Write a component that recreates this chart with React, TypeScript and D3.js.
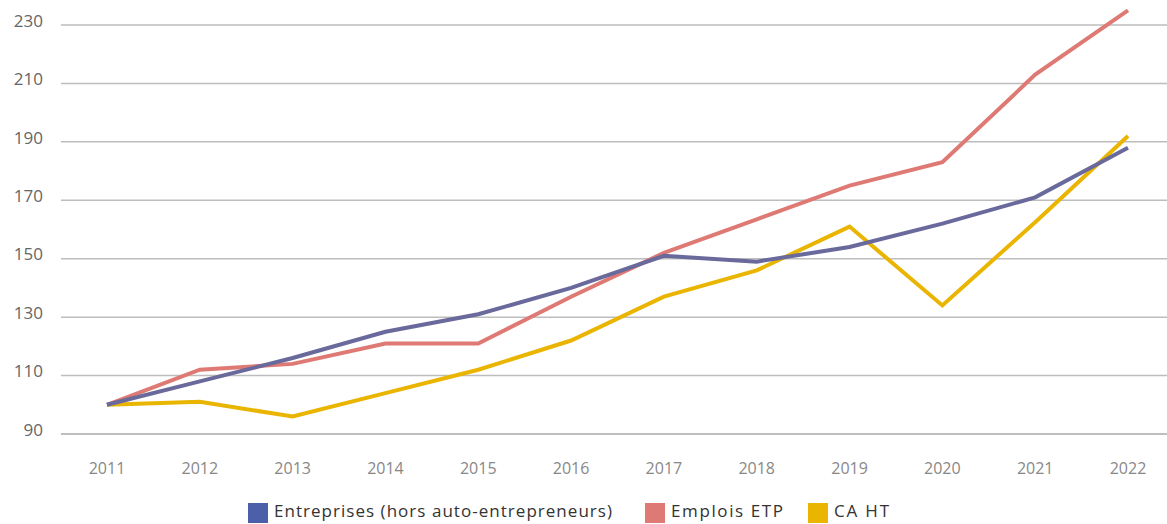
import { useMemo } from 'react'
import * as d3 from 'd3'

const W = 1167
const H = 524

const years = ['2011', '2012', '2013', '2014', '2015', '2016', '2017', '2018', '2019', '2020', '2021', '2022']
const yTicks = [90, 110, 130, 150, 170, 190, 210, 230]

const entreprises = [100, 108, 116, 125, 131, 140, 151, 149, 154, 162, 171, 188]
const emplois = [100, 112, 114, 121, 121, 137, 152, 163.5, 175, 183, 213, 235]
const caHT = [100, 101, 96, 104, 112, 122, 137, 146, 161, 134, 162.5, 192]

// drawn back to front
const series = [
  { name: 'CA HT', values: caHT, line: '#E9B500' },
  { name: 'Emplois ETP', values: emplois, line: '#DE7A73' },
  { name: 'Entreprises (hors auto-entrepreneurs)', values: entreprises, line: '#6A699C' },
]

const legend = [
  { name: 'Entreprises (hors auto-entrepreneurs)', color: '#4C60AA', x: 248, len: 338 },
  { name: 'Emplois ETP', color: '#DE7A73', x: 645, len: 112 },
  { name: 'CA HT', color: '#E9B500', x: 808, len: 55 },
]

const FONT = '"Open Sans", sans-serif'

export default function App() {
  const x = useMemo(() => d3.scalePoint<string>().domain(years).range([107, 1128]), [])
  const y = useMemo(() => d3.scaleLinear().domain([90, 230]).range([434, 25]), [])

  const line = d3.line<number>()
    .x((_, i) => x(years[i]) ?? 0)
    .y((d) => y(d))

  return (
    <svg width={W} height={H} style={{ position: 'absolute', left: 0, top: 0, display: 'block', background: '#fff' }}>
      {yTicks.map((t) => (
        <g key={t}>
          <line x1={61} x2={W} y1={y(t)} y2={y(t)} stroke={t === 90 ? '#a8a8a8' : '#bdbdbd'} strokeWidth={1.5} />
          <text x={43} y={y(t)} dy="0.1em" textAnchor="end" fontFamily={FONT} fontSize={17} fill="#666">
            {t}
          </text>
        </g>
      ))}
      {years.map((yr) => (
        <text key={yr} x={x(yr)} y={474} textAnchor="middle" fontFamily={FONT} fontSize={16} fill="#888">
          {yr}
        </text>
      ))}
      {series.map((s) => (
        <path key={s.name} d={line(s.values) ?? ''} fill="none" stroke={s.line} strokeWidth={4} strokeLinejoin="miter" />
      ))}
      {legend.map((l) => (
        <g key={l.name}>
          <rect x={l.x} y={503} width={20} height={20} fill={l.color} />
          <text x={l.x + 26} y={517} fontFamily={FONT} fontSize={17} fill="#333" textLength={l.len} lengthAdjust="spacing">
            {l.name}
          </text>
        </g>
      ))}
    </svg>
  )
}
